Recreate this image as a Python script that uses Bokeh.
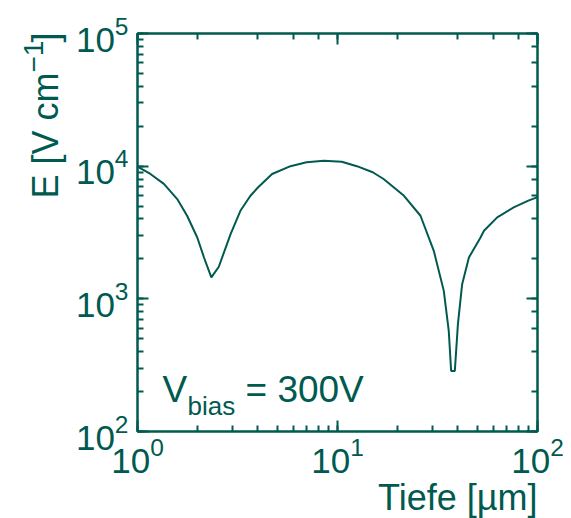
from bokeh.plotting import figure
from bokeh.models import LogAxis, Label, CustomJSTickFormatter
from bokeh.embed import file_html
from bokeh.resources import INLINE
import math

# Electric field profile across the sensor depth
depth_um = [1.0, 1.16, 1.355, 1.58, 1.77, 1.99, 2.15, 2.34, 2.55, 2.92, 3.27,
            3.67, 4.0, 4.71, 5.82, 7.0, 8.54, 10.5, 12.5, 15.0, 17.0, 21.5,
            26.0, 30.3, 34.0, 36.0, 37.0, 38.6, 40.0, 42.0, 45.4, 51.9,
            54.0, 62.9, 76.0, 90.0, 100.0]
field_v_cm = [9900, 8730, 7350, 5650, 4230, 2900, 2050, 1450, 1745, 3075, 4610,
              5980, 6900, 8730, 10000, 10700, 11000, 10800, 10000, 9000, 8000, 5980,
              4230, 2300, 1148, 573, 286, 286, 644, 1290, 2050, 2900,
              3260, 4110, 4890, 5500, 5850]

x_limits = (1, 100)
y_limits = (1e2, 1e5)

ink = "#005a50"
font = "Liberation Sans"

p = figure(width=571, height=518, x_axis_type="log", y_axis_type="log",
           x_range=x_limits, y_range=y_limits,
           output_backend="svg", toolbar_location=None,
           min_border_left=137, min_border_right=34,
           min_border_top=33, min_border_bottom=87)
p.grid.visible = False
p.outline_line_color = ink
p.outline_line_width = 2
p.background_fill_color = "white"
p.border_fill_color = "white"

# mirrored tick marks on the top and right edges, without labels
blank = CustomJSTickFormatter(code="return ''")
p.add_layout(LogAxis(formatter=blank, major_label_standoff=0), "right")
p.add_layout(LogAxis(formatter=blank, major_label_standoff=0), "above")

for ax in p.axis:
    ax.axis_line_color = ink
    ax.axis_line_width = 2
    ax.major_tick_line_color = ink
    ax.minor_tick_line_color = ink
    ax.major_tick_line_width = 2
    ax.minor_tick_line_width = 2
    ax.major_tick_in = 11
    ax.major_tick_out = 0
    ax.minor_tick_in = 6
    ax.minor_tick_out = 0
    ax.major_label_text_color = ink
    ax.major_label_text_font = font
    ax.major_label_text_font_size = "35px"

p.xaxis[0].major_label_standoff = 6
p.yaxis[0].major_label_standoff = 9

p.line(depth_um, field_v_cm, line_color=ink, line_width=2)

x0, y0 = x_limits[0], y_limits[0]

def add_label(text, x, dx, dy, size, place="center", angle=0.0, align="left"):
    p.add_layout(Label(x=x, y=y0, x_offset=dx, y_offset=dy, text=text,
                       text_font=font, text_font_size=size, text_color=ink,
                       text_align=align, text_baseline="alphabetic",
                       angle=angle), place)

# x-axis title, right-aligned under the axis
add_label("Tiefe [µm]", x_limits[1], 0, -66, "36px", place="below", align="right")

# y-axis title running upward; the non-breaking gap before "]" holds the exponent
add_label("E [V cm\u00a0\u00a0\u00a0]", x0, -92, 233, "36px", place="left", angle=math.pi / 2)
add_label("\u22121", x0, -104, 359, "28px", place="left", angle=math.pi / 2)

# bias voltage annotation
add_label("V", x0, 25, 42, "37px")
add_label("bias", x0, 50, 26, "26px")
add_label("= 300V", x0, 108, 42, "37px")

open("out.html", "w").write(file_html(p, INLINE))
